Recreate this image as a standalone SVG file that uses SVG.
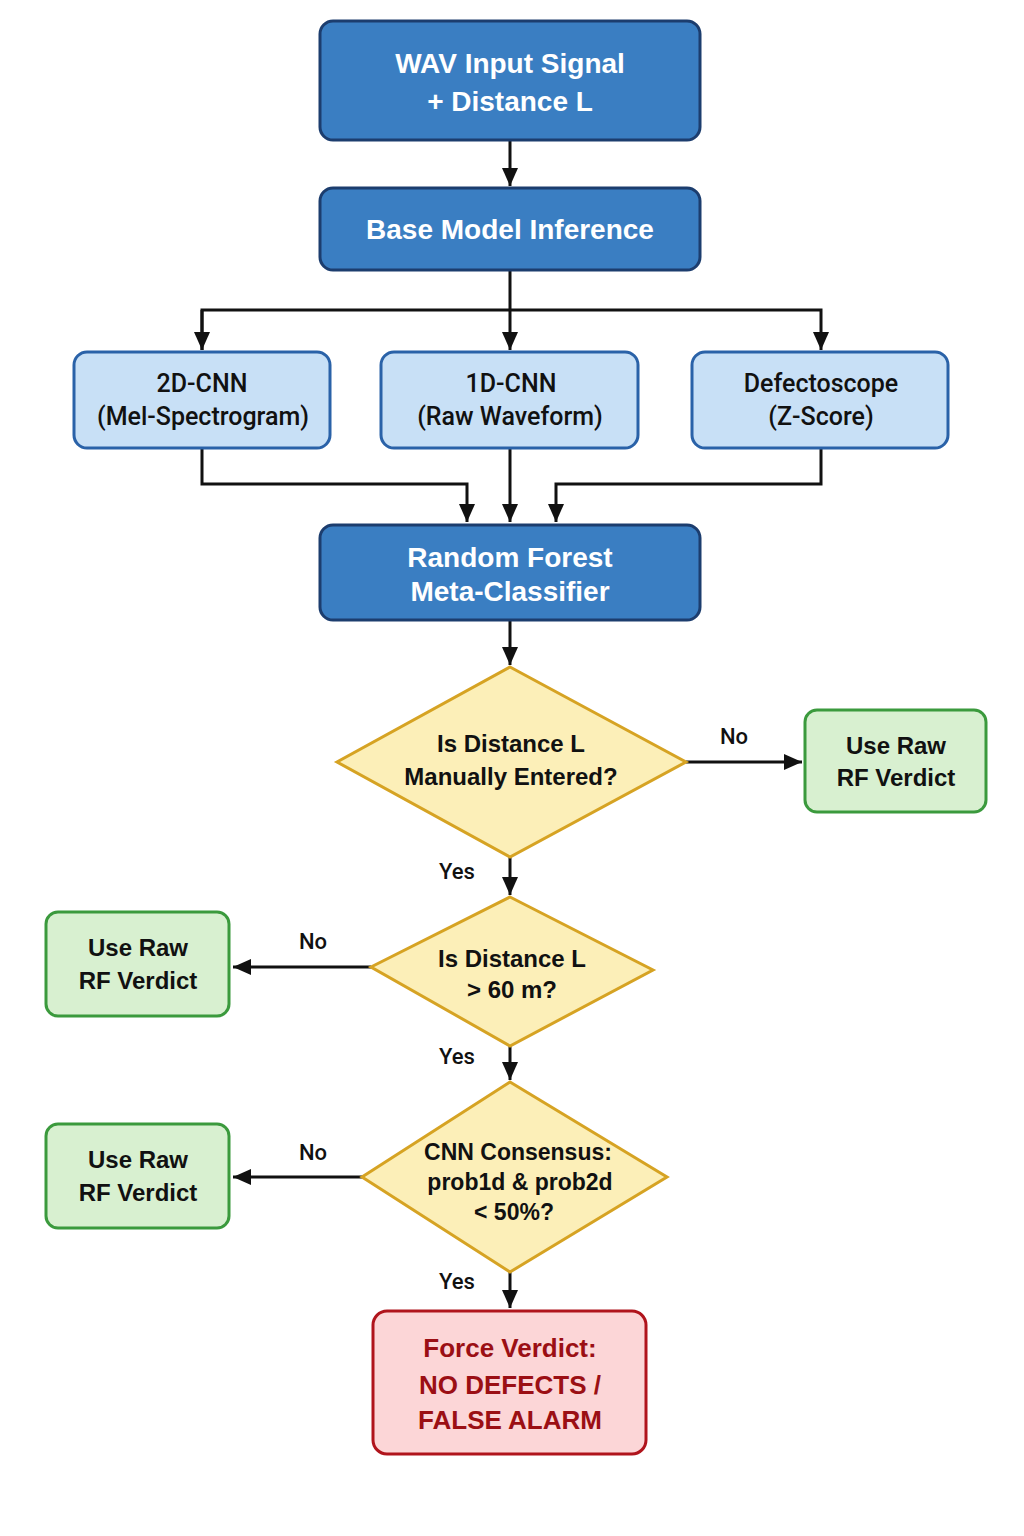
<svg xmlns="http://www.w3.org/2000/svg" width="1024" height="1536" viewBox="0 0 1024 1536">
<defs>
<marker id="ah" markerUnits="userSpaceOnUse" markerWidth="20" markerHeight="16" refX="18" refY="8" orient="auto">
<path d="M0,0 L18,8 L0,16 Z" fill="#111"/>
</marker>
<style>
.dark{fill:#3a7ec2;stroke:#1c3d6e;stroke-width:3}
.light{fill:#c8e0f6;stroke:#2a62a8;stroke-width:3}
.dia{fill:#fcefb8;stroke:#d6a323;stroke-width:3}
.green{fill:#d8f0d0;stroke:#3b9a3d;stroke-width:3}
.red{fill:#fcd6d7;stroke:#b0141c;stroke-width:3}
text{font-family:"Liberation Sans",Arial,sans-serif;text-anchor:middle}
.tw{fill:#fff;font-weight:bold;font-size:28px}
.tl{fill:#111;font-family:Roboto,"Liberation Sans",sans-serif;font-weight:500;font-size:25px}
.tb{fill:#111;font-weight:bold;font-size:24px}
.tb3{fill:#111;font-weight:bold;font-size:23px}
.tr{fill:#9b0f14;font-weight:bold;font-size:26px}
.lab{fill:#111;font-family:Roboto,"Liberation Sans",sans-serif;font-weight:500;font-size:22px}
.c{fill:none;stroke:#111;stroke-width:3}
</style>
</defs>
<rect width="1024" height="1536" fill="#fff"/>
<g id="connectors">
<path class="c" d="M510,140 V186" marker-end="url(#ah)"/>
<path class="c" d="M510,270 V350"  marker-end="url(#ah)"/>
<path class="c" d="M202,350 V310 H821 V350" marker-end="url(#ah)"/>
<path class="c" d="M202,310 V350" marker-end="url(#ah)"/>
<path class="c" d="M202,448 V484 H467 V522" marker-end="url(#ah)"/>
<path class="c" d="M510,448 V522" marker-end="url(#ah)"/>
<path class="c" d="M821,448 V484 H556 V522" marker-end="url(#ah)"/>
<path class="c" d="M510,620 V665" marker-end="url(#ah)"/>
<path class="c" d="M686,762 H802" marker-end="url(#ah)"/>
<path class="c" d="M510,857 V895" marker-end="url(#ah)"/>
<path class="c" d="M371,967 H233" marker-end="url(#ah)"/>
<path class="c" d="M510,1046 V1080" marker-end="url(#ah)"/>
<path class="c" d="M362,1177 H233" marker-end="url(#ah)"/>
<path class="c" d="M510,1272 V1308" marker-end="url(#ah)"/>
<text class="lab" x="734" y="744">No</text>
<text class="lab" x="457" y="879">Yes</text>
<text class="lab" x="313" y="949">No</text>
<text class="lab" x="457" y="1064">Yes</text>
<text class="lab" x="313" y="1160">No</text>
<text class="lab" x="457" y="1289">Yes</text>
</g>
<g id="input">
<rect class="dark" x="320" y="21" width="380" height="119" rx="13"/>
<text class="tw" x="510" y="73">WAV Input Signal</text>
<text class="tw" x="510" y="111">+ Distance L</text>
</g>
<g id="base">
<rect class="dark" x="320" y="188" width="380" height="82" rx="13"/>
<text class="tw" x="510" y="239">Base Model Inference</text>
</g>
<g id="cnn2d">
<rect class="light" x="74" y="352" width="256" height="96" rx="13"/>
<text class="tl" x="202" y="392">2D-CNN</text>
<text class="tl" x="203" y="425">(Mel-Spectrogram)</text>
</g>
<g id="cnn1d">
<rect class="light" x="381" y="352" width="257" height="96" rx="13"/>
<text class="tl" x="511" y="392">1D-CNN</text>
<text class="tl" x="510" y="425">(Raw Waveform)</text>
</g>
<g id="defecto">
<rect class="light" x="692" y="352" width="256" height="96" rx="13"/>
<text class="tl" x="821" y="392">Defectoscope</text>
<text class="tl" x="821" y="425">(Z-Score)</text>
</g>
<g id="rf">
<rect class="dark" x="320" y="525" width="380" height="95" rx="13"/>
<text class="tw" x="510" y="567">Random Forest</text>
<text class="tw" x="510" y="601">Meta-Classifier</text>
</g>
<g id="d1">
<polygon class="dia" points="510,667 686,762 510,857 337,762"/>
<text class="tb" x="511" y="752">Is Distance L</text>
<text class="tb" x="511" y="785">Manually Entered?</text>
</g>
<g id="g1">
<rect class="green" x="805" y="710" width="181" height="102" rx="12"/>
<text class="tb" x="896" y="754">Use Raw</text>
<text class="tb" x="896" y="786">RF Verdict</text>
</g>
<g id="d2">
<polygon class="dia" points="510,897 653,970 510,1046 371,967"/>
<text class="tb" x="512" y="967">Is Distance L</text>
<text class="tb" x="512" y="998">&gt; 60 m?</text>
</g>
<g id="g2">
<rect class="green" x="46" y="912" width="183" height="104" rx="12"/>
<text class="tb" x="138" y="956">Use Raw</text>
<text class="tb" x="138" y="989">RF Verdict</text>
</g>
<g id="d3">
<polygon class="dia" points="510,1082 667,1177 510,1272 362,1177"/>
<text class="tb3" x="518" y="1160">CNN Consensus:</text>
<text class="tb3" x="520" y="1190">prob1d &amp; prob2d</text>
<text class="tb3" x="514" y="1220">&lt; 50%?</text>
</g>
<g id="g3">
<rect class="green" x="46" y="1124" width="183" height="104" rx="12"/>
<text class="tb" x="138" y="1168">Use Raw</text>
<text class="tb" x="138" y="1201">RF Verdict</text>
</g>
<g id="force">
<rect class="red" x="373" y="1311" width="273" height="143" rx="14"/>
<text class="tr" x="510" y="1357">Force Verdict:</text>
<text class="tr" x="510" y="1394">NO DEFECTS /</text>
<text class="tr" x="510" y="1429">FALSE ALARM</text>
</g>
</svg>
